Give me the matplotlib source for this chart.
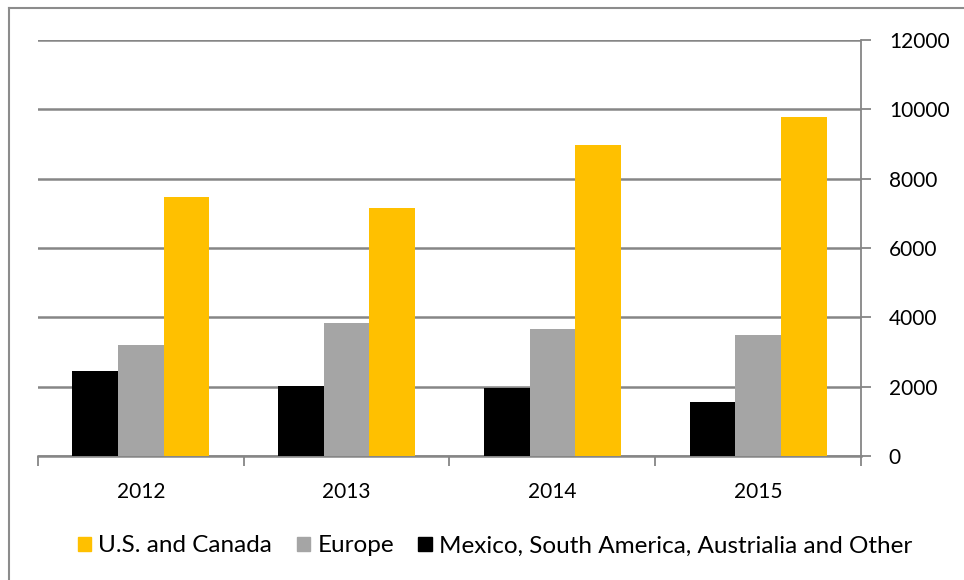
import numpy as np
import matplotlib
matplotlib.use('Agg')
import matplotlib.pyplot as plt
from matplotlib.patches import Patch

plt.rcParams['font.family'] = ['Lato', 'DejaVu Sans']

# data
years = ['2012', '2013', '2014', '2015']
us_canada = [7480, 7160, 8980, 9780]
europe = [3210, 3850, 3660, 3480]
mexico_other = [2440, 2030, 1970, 1550]

series = [('Mexico, South America, Austrialia and Other', mexico_other, '#000000'),
          ('Europe', europe, '#A5A5A5'),
          ('U.S. and Canada', us_canada, '#FFC000')]

fig = plt.figure(figsize=(9.64, 5.8), dpi=100)
ax = fig.add_axes([38/964, 1-456/580, (861-38)/964, (456-40)/580])

x = np.arange(len(years))
w = 1/4.5
for i, (name, vals, col) in enumerate(series):
    ax.bar(x + (i-1)*w, vals, w, color=col, zorder=3, label=name)

ax.set_xlim(-0.5, len(years)-0.5)
ax.set_ylim(0, 12000)
ax.set_yticks(np.arange(0, 12001, 2000))
ax.yaxis.tick_right()
ax.grid(axis='y', color='#868686', lw=1.8, zorder=0)

for s in ['top', 'left']:
    ax.spines[s].set_visible(False)
ax.spines['right'].set_color('#868686')
ax.spines['bottom'].set_color('#868686')
ax.spines['right'].set_linewidth(1.3)
ax.spines['bottom'].set_linewidth(1.8)

ax.set_xticks(np.arange(-0.5, len(years), 1))
ax.set_xticklabels([])
ax.set_xticks(x, minor=True)
ax.set_xticklabels(years, minor=True)
ax.tick_params(axis='x', which='major', length=7, color='#868686', width=1.3)
ax.tick_params(axis='x', which='minor', length=0, pad=19, labelsize=15)
ax.tick_params(axis='y', length=7, color='#868686', width=1.3, pad=13, labelsize=15)

handles = [Patch(color=c, label=n) for n, v, c in series[::-1]]
fig.legend(handles=handles, loc='center', bbox_to_anchor=(495/964, 1-546/580),
           ncol=3, frameon=False, fontsize=17.5, handlelength=0.55, handleheight=0.55,
           handletextpad=0.3, columnspacing=1.0)

# chart border (left and top visible)
fig.add_artist(plt.Line2D([9/964, 9/964], [0, 1-8/580], color='#8c8c8c', lw=1.5))
fig.add_artist(plt.Line2D([9/964, 1], [1-8/580, 1-8/580], color='#8c8c8c', lw=1.5))

fig.savefig('out.png', dpi=100)
